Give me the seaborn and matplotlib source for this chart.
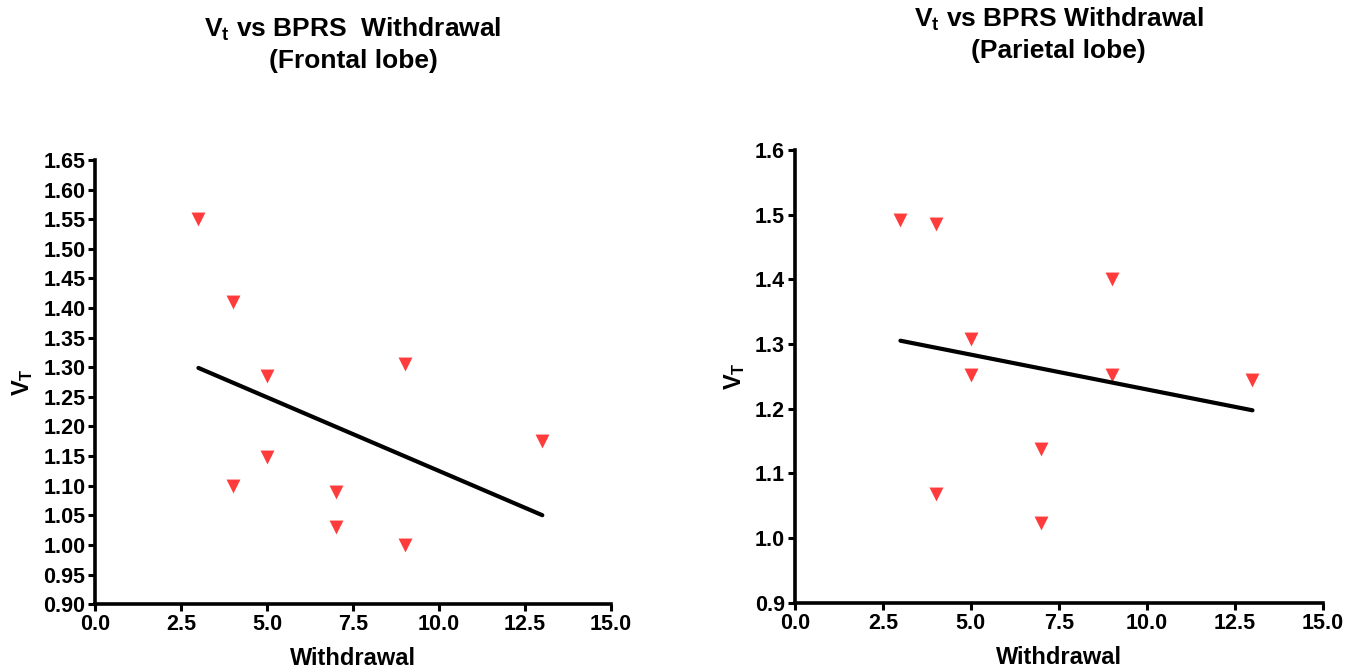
import numpy as np
import pandas as pd
import seaborn as sns
import matplotlib.pyplot as plt
from matplotlib.ticker import MultipleLocator, FormatStrFormatter

# withdrawal scores (same subjects in both panels)
withdrawal = [3, 4, 4, 5, 5, 7, 7, 9, 9, 13]
vt_frontal = [1.55, 1.41, 1.10, 1.285, 1.148, 1.09, 1.03, 1.305, 1.00, 1.175]
vt_parietal = [1.492, 1.485, 1.068, 1.308, 1.252, 1.138, 1.023, 1.40, 1.252, 1.245]

titles = ["V$_t$ vs BPRS  Withdrawal\n(Frontal lobe)",
          "V$_t$ vs BPRS Withdrawal\n(Parietal lobe)"]

sns.set_style("ticks")
plt.rcParams['font.family'] = ['Liberation Sans', 'DejaVu Sans']
plt.rcParams['font.weight'] = 'bold'
plt.rcParams['mathtext.default'] = 'regular'
plt.rcParams['text.color'] = 'black'
plt.rcParams['axes.labelcolor'] = 'black'
plt.rcParams['xtick.color'] = 'black'
plt.rcParams['ytick.color'] = 'black'
plt.rcParams['axes.edgecolor'] = 'black'

fig = plt.figure(figsize=(13.61, 6.72), dpi=100)
ax1 = fig.add_axes([0.070, 0.101, 0.379, 0.661])
ax2 = fig.add_axes([0.584, 0.103, 0.388, 0.674])

panels = [
    (ax1, vt_frontal, titles[0], (0.90, 1.65), 0.05, '%.2f'),
    (ax2, vt_parietal, titles[1], (0.90, 1.60), 0.1, '%.1f'),
]

for ax, vt, title, ylim, ystep, yfmt in panels:
    df = pd.DataFrame({'Withdrawal': withdrawal, 'VT': vt})
    sns.regplot(data=df, x='Withdrawal', y='VT', ax=ax, ci=None,
                marker='v',
                scatter_kws={'s': 100, 'color': '#FF3B3B', 'alpha': 1,
                             'linewidths': 0},
                line_kws={'color': 'black', 'linewidth': 3})
    ax.set_xlim(0, 15)
    ax.set_ylim(*ylim)
    ax.xaxis.set_major_locator(MultipleLocator(2.5))
    ax.xaxis.set_major_formatter(FormatStrFormatter('%.1f'))
    ax.yaxis.set_major_locator(MultipleLocator(ystep))
    ax.yaxis.set_major_formatter(FormatStrFormatter(yfmt))
    sns.despine(ax=ax)
    for s in ['left', 'bottom']:
        ax.spines[s].set_linewidth(2.6)
    ax.tick_params(width=2.2, length=5, labelsize=15.5, pad=2)
    for lab in ax.get_xticklabels() + ax.get_yticklabels():
        lab.set_fontweight('bold')
    ax.set_xlabel('Withdrawal', fontsize=17, fontweight='bold', labelpad=9)
    ax.set_ylabel('V$_T$', fontsize=17, fontweight='bold', labelpad=6)
    ax.set_title(title, fontsize=19, fontweight='bold', pad=66,
                 linespacing=1.35)

plt.savefig('out.png', dpi=100)
plt.close()
